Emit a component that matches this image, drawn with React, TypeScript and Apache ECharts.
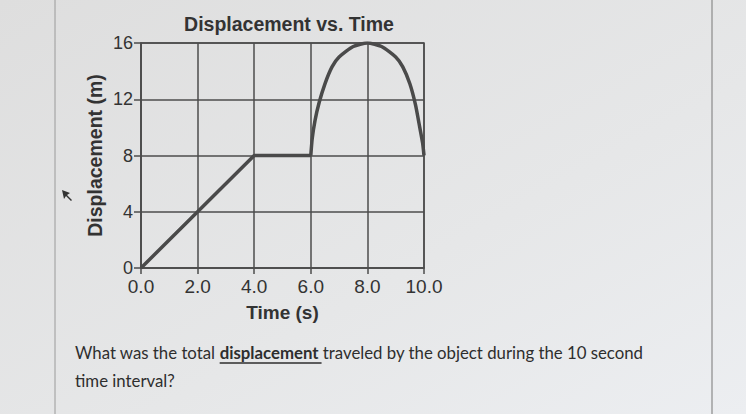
import React, { useEffect, useRef } from "react";
import * as echarts from "echarts";

const chartTitle = "Displacement vs. Time";
const xAxisName = "Time (s)";
const yAxisName = "Displacement (m)";
const xTicks = [0, 2, 4, 6, 8, 10];
const yTicks = [0, 4, 8, 12, 16];

// straight part of the motion (time s, displacement m)
const linearTime = [0, 2, 4, 6];
const linearDisp = [0, 4, 8, 8];

// curved part
const curveTime = [6, 6.05, 6.15, 6.3, 6.5, 6.75, 7.0, 7.5, 8.0, 8.5, 9.0, 9.25, 9.5, 9.7, 9.85, 9.95, 10];
const curveDisp = [8, 9.2, 10.5, 11.8, 13.1, 14.3, 15.0, 15.75, 16, 15.75, 15.0, 14.3, 13.1, 11.6, 10.0, 8.9, 8];

const questionBefore = "What was the total ";
const questionBold = "displacement";
const questionAfter = " traveled by the object during the 10 second";
const questionLine2 = "time interval?";

export default function App() {
  const ref = useRef<HTMLDivElement>(null);
  useEffect(() => {
    document.body.style.margin = "0";
    const chart = echarts.init(ref.current!, null, { renderer: "svg" });

    const qFont = 16.8;
    const ctx = document.createElement("canvas").getContext("2d")!;
    ctx.font = qFont + "px Lato";
    const wBefore = ctx.measureText(questionBefore).width;
    ctx.font = "bold " + qFont + "px Lato";
    const wBold = ctx.measureText(questionBold).width;
    const qx = 75;
    const qLineH = 28;
    const qTop = 352 - qLineH / 2;

    const lineColor = "#4a4a4a";
    const gridColor = "#4d4d4d";
    const textColor = "#333333";
    const font = "Liberation Sans";

    chart.setOption({
      animation: false,
      backgroundColor: {
        type: "linear",
        x: 0, y: 0, x2: 1, y2: 1,
        colorStops: [
          { offset: 0, color: "#dedede" },
          { offset: 0.6, color: "#e6e7e8" },
          { offset: 1, color: "#eceef1" },
        ],
      },
      title: {
        text: chartTitle,
        left: 284,
        top: 9,
        textAlign: "center",
        textStyle: { fontFamily: font, fontWeight: "bold", fontSize: 19.5, color: textColor },
      },
      grid: {
        left: 141, right: 322, top: 43, bottom: 146,
        show: true, borderColor: gridColor, borderWidth: 1.5, backgroundColor: "transparent",
      },
      xAxis: {
        type: "value",
        min: 0, max: 10, interval: 2,
        name: xAxisName,
        nameLocation: "middle",
        nameGap: 35,
        nameTextStyle: { fontFamily: font, fontWeight: "bold", fontSize: 19, color: textColor },
        axisLine: { show: true, lineStyle: { color: gridColor, width: 1.5 } },
        axisTick: { show: true, length: 6, lineStyle: { color: gridColor, width: 1.5 } },
        axisLabel: {
          fontFamily: font, fontSize: 19, color: textColor, margin: 9,
          formatter: (v: number) => (xTicks.includes(v) ? v.toFixed(1) : ""),
        },
        splitLine: { show: true, lineStyle: { color: gridColor, width: 1.5 } },
      },
      yAxis: {
        type: "value",
        min: 0, max: 16, interval: 4,
        name: yAxisName,
        nameLocation: "middle",
        nameGap: 36,
        nameTextStyle: { fontFamily: font, fontWeight: "bold", fontSize: 19.5, color: textColor },
        axisLine: { show: true, lineStyle: { color: gridColor, width: 1.5 } },
        axisTick: { show: true, length: 7, lineStyle: { color: gridColor, width: 1.5 } },
        axisLabel: {
          fontFamily: font, fontSize: 18, color: textColor, margin: 8,
          formatter: (v: number) => (yTicks.includes(v) ? String(v) : ""),
        },
        splitLine: { show: true, lineStyle: { color: gridColor, width: 1.5 } },
      },
      series: [
        {
          type: "line",
          data: linearTime.map((t, i) => [t, linearDisp[i]]),
          showSymbol: false,
          lineStyle: { color: lineColor, width: 3.5 },
        },
        {
          type: "line",
          data: curveTime.map((t, i) => [t, curveDisp[i]]),
          showSymbol: false,
          smooth: 0.2,
          lineStyle: { color: lineColor, width: 3.5 },
        },
      ],
      graphic: [
        { type: "line", shape: { x1: 55, y1: 0, x2: 55, y2: 414 }, style: { stroke: "#9a9a9a", lineWidth: 1 } },
        { type: "line", shape: { x1: 712, y1: 0, x2: 712, y2: 414 }, style: { stroke: "#8a8a8a", lineWidth: 1.2 } },
        {
          type: "polygon",
          shape: { points: [[62, 190], [64, 199], [66, 196], [71, 201], [72, 200], [67, 195], [70, 193]] },
          style: { fill: "#333" },
        },
        {
          type: "text",
          x: qx,
          y: qTop,
          style: {
            text: questionBefore + "{b|" + questionBold + "}" + questionAfter + "\n" + questionLine2,
            fontFamily: "Lato",
            fontSize: qFont,
            fill: "#2e2e2e",
            lineHeight: qLineH,
            verticalAlign: "top",
            rich: {
              b: { fontFamily: "Lato", fontWeight: "bold", fontSize: qFont, fill: "#2e2e2e", lineHeight: qLineH },
            },
          },
        },
        {
          type: "line",
          shape: { x1: qx + wBefore, y1: 363, x2: qx + wBefore + wBold + 3, y2: 363 },
          style: { stroke: "#2e2e2e", lineWidth: 1.3 },
        },
      ],
    });
    return () => chart.dispose();
  }, []);
  return <div ref={ref} style={{ position: "absolute", left: 0, top: 0, width: 746, height: 414 }} />;
}
